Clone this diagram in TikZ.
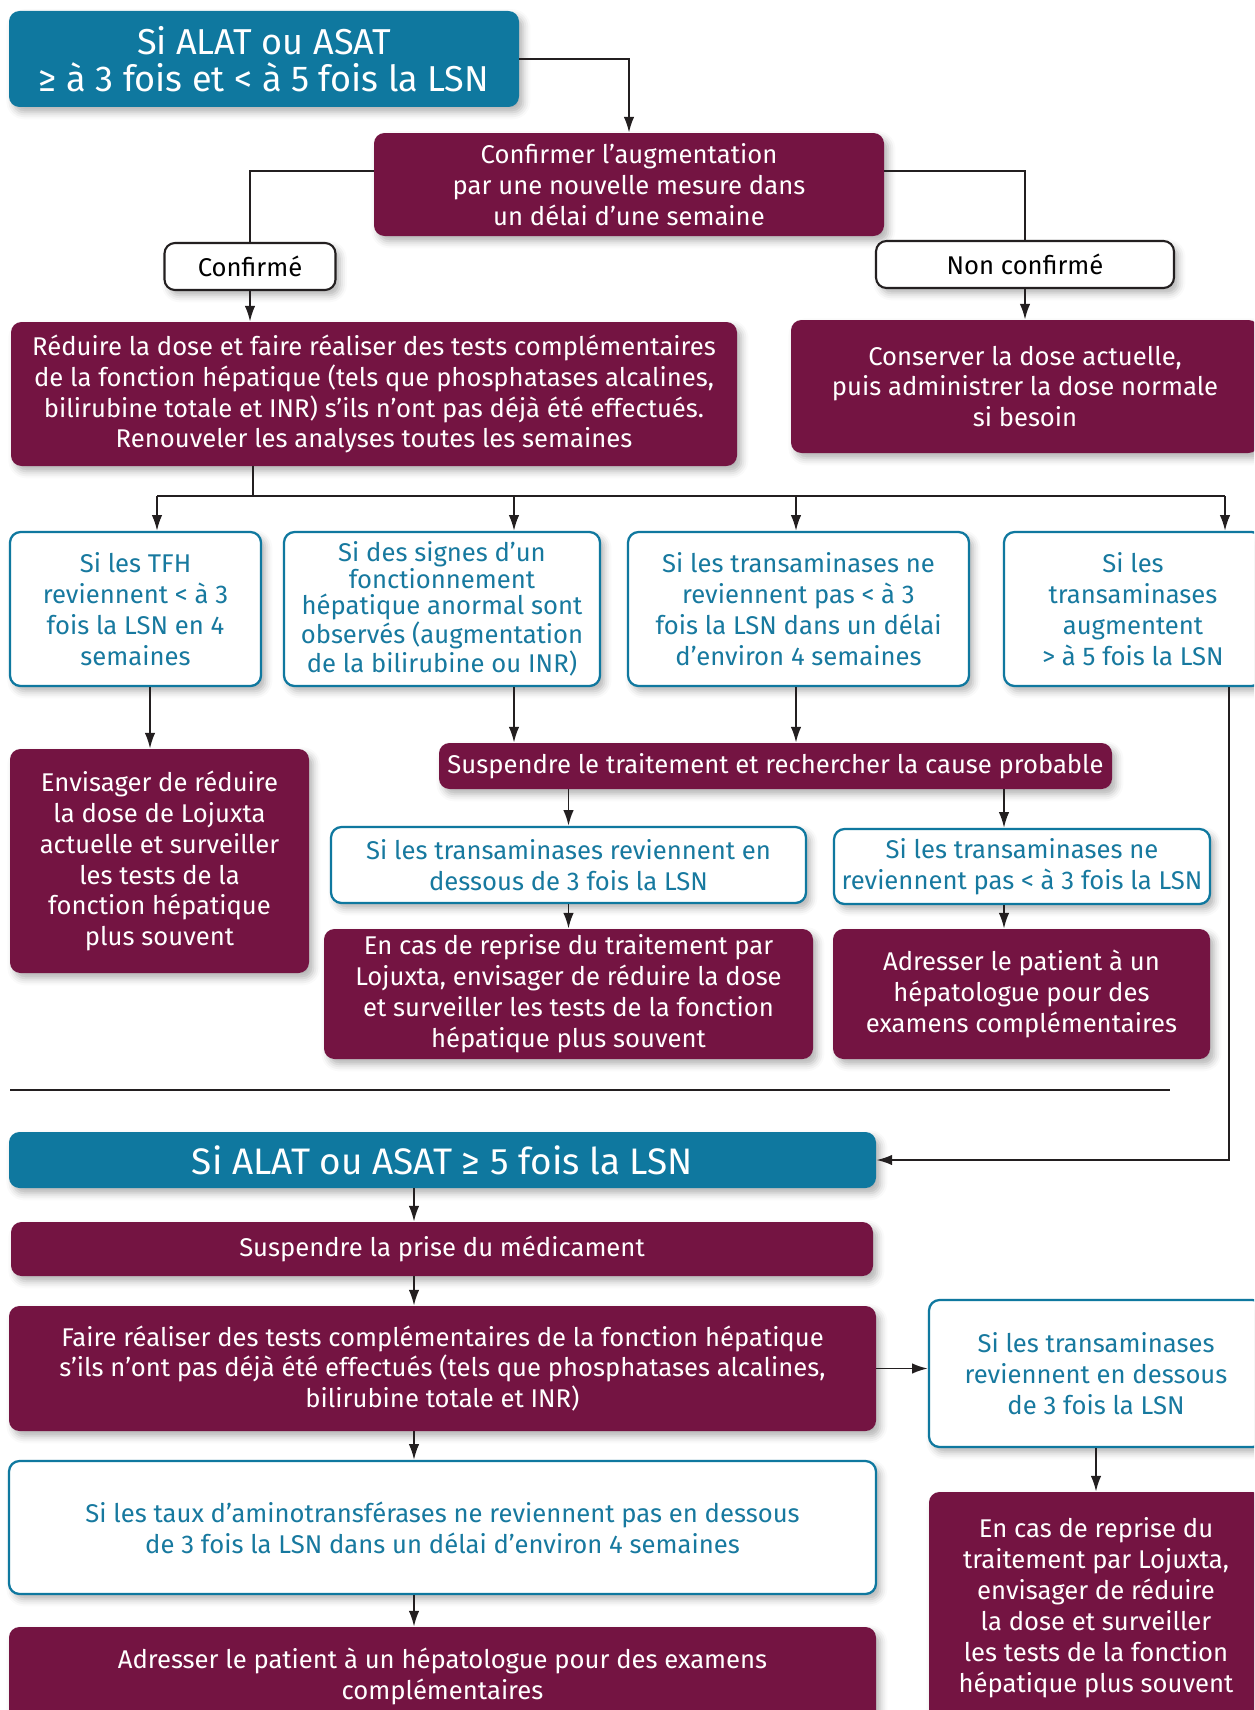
\documentclass[tikz,border=0pt]{standalone}
\usepackage{fontspec}
\setmainfont{Fira Sans}
\usetikzlibrary{arrows.meta,shadows.blur}
\definecolor{titleblue}{HTML}{0F789F}
\definecolor{plum}{HTML}{741442}
\definecolor{textblue}{HTML}{17799F}
\definecolor{wire}{HTML}{231F20}

\tikzset{
  boxbase/.style={rounded corners=6pt, inner sep=0pt, align=center,
    font=\fontsize{14.6}{17.6}\selectfont,
    blur shadow={shadow xshift=2.5pt, shadow yshift=-3pt, shadow blur radius=4pt, shadow opacity=30}},
  boxsize/.style 2 args={minimum width=#1*0.02cm, minimum height=#2*0.02cm},
  plumbox/.style={boxbase, fill=plum, text=white},
  bluebox/.style={boxbase, fill=titleblue, text=white},
  linebox/.style={boxbase, draw=titleblue, line width=1.3pt, fill=white, text=textblue},
  tagbox/.style={boxbase, draw=wire, line width=1.2pt, fill=white, text=black},
  link/.style={draw=wire, line width=1.1pt},
  arr/.style={link, -{Latex[length=9pt,width=6pt]}},
}

\begin{document}
\begin{tikzpicture}[x=0.02cm, y=-0.02cm]
    \useasboundingbox (0,0) rectangle (1254,1710);
    \clip (0,0) rectangle (1254,1710);

    % first case: 3 to 5 times
    \node[bluebox, boxsize={510}{96}, font=\fontsize{20.5}{20.8}\selectfont] (title1) at (264,59)
        {Si ALAT ou ASAT\\≥ à 3 fois et < à 5 fois la LSN};
    \node[plumbox, boxsize={510}{103}] (confirm) at (629,184.5)
        {Confirmer l’augmentation\\par une nouvelle mesure dans\\un délai d’une semaine};
    \node[tagbox, boxsize={171}{47}] (confirmed) at (250,266.5) {Confirmé};
    \node[tagbox, boxsize={298}{47}] (notconfirmed) at (1025,264.5) {Non confirmé};
    \node[plumbox, boxsize={726}{144}] (reduce) at (374,394)
        {Réduire la dose et faire réaliser des tests complémentaires\\de la fonction hépatique (tels que phosphatases alcalines,\\bilirubine totale et INR) s’ils n’ont pas déjà été effectués.\\Renouveler les analyses toutes les semaines};
    \node[plumbox, boxsize={468}{133}] (keep) at (1025,386.5)
        {Conserver la dose actuelle,\\puis administrer la dose normale\\si besoin};

    \node[linebox, boxsize={251}{154}] (tfh) at (135.5,609)
        {Si les TFH\\reviennent < à 3\\fois la LSN en 4\\semaines};
    \node[linebox, boxsize={316}{154}, font=\fontsize{14.6}{15}\selectfont] (signs) at (442,609)
        {Si des signes d’un\\fonctionnement\\hépatique anormal sont\\observés (augmentation\\de la bilirubine ou INR)};
    \node[linebox, boxsize={341}{154}] (notback) at (798.5,609)
        {Si les transaminases ne\\reviennent pas < à 3\\fois la LSN dans un délai\\d’environ 4 semaines};
    \node[linebox, boxsize={258}{154}] (rise) at (1133,609)
        {Si les\\transaminases\\augmentent\\> à 5 fois la LSN};

    \node[plumbox, boxsize={299}{224}] (consider) at (159.5,861)
        {Envisager de réduire\\la dose de Lojuxta\\actuelle et surveiller\\les tests de la\\fonction hépatique\\plus souvent};
    \node[plumbox, boxsize={673}{46}] (stop) at (775.5,766)
        {Suspendre le traitement et rechercher la cause probable};
    \node[linebox, boxsize={475}{76}] (back1) at (568.5,865)
        {Si les transaminases reviennent en\\dessous de 3 fois la LSN};
    \node[linebox, boxsize={376}{75}] (notback1) at (1022,866.5)
        {Si les transaminases ne\\reviennent pas < à 3 fois la LSN};
    \node[plumbox, boxsize={489}{130}] (resume1) at (568.5,994)
        {En cas de reprise du traitement par\\Lojuxta, envisager de réduire la dose\\et surveiller les tests de la fonction\\hépatique plus souvent};
    \node[plumbox, boxsize={377}{130}] (refer1) at (1021.5,994)
        {Adresser le patient à un\\hépatologue pour des\\examens complémentaires};

    % second case: 5 times and more
    \node[bluebox, boxsize={867}{56}, font=\fontsize{21}{22}\selectfont] (title2) at (442.5,1160)
        {Si ALAT ou ASAT ≥ 5 fois la LSN};
    \node[plumbox, boxsize={862}{54}] (stopdrug) at (442,1249)
        {Suspendre la prise du médicament};
    \node[plumbox, boxsize={867}{125}] (tests) at (442.5,1368.5)
        {Faire réaliser des tests complémentaires de la fonction hépatique\\s’ils n’ont pas déjà été effectués (tels que phosphatases alcalines,\\bilirubine totale et INR)};
    \node[linebox, boxsize={334}{147}] (back2) at (1096,1373.5)
        {Si les transaminases\\reviennent en dessous\\de 3 fois la LSN};
    \node[plumbox, boxsize={334}{232}] (resume2) at (1096,1608)
        {En cas de reprise du\\traitement par Lojuxta,\\envisager de réduire\\la dose et surveiller\\les tests de la fonction\\hépatique plus souvent};
    \node[linebox, boxsize={867}{133}] (rates) at (442.5,1527.5)
        {Si les taux d’aminotransférases ne reviennent pas en dessous\\de 3 fois la LSN dans un délai d’environ 4 semaines};
    \node[plumbox, boxsize={867}{98}] (refer2) at (442.5,1676)
        {Adresser le patient à un hépatologue pour des examens\\complémentaires};

    % helper points for the wires
    \coordinate (bus) at (253,496);
    \coordinate (col1) at (157,496);
    \coordinate (col2) at (514,496);
    \coordinate (col3) at (796,496);
    \coordinate (col4) at (1225,496);
    \coordinate (down1) at (150,720);
    \coordinate (down2) at (1004,800);
    \coordinate (side) at (1229,1000);
    \coordinate (spine) at (414,1200);

    \draw[arr] (title1.east) -| (confirm.north);
    \draw[link] ([yshift=7.5pt]confirm.west) -| (confirmed.north);
    \draw[link] ([yshift=7.5pt]confirm.east) -| (notconfirmed.north);
    \draw[arr] (confirmed.south) -- (confirmed.south |- reduce.north);
    \draw[arr] (notconfirmed.south) -- (notconfirmed.south |- keep.north);

    \draw[link] (reduce.south -| bus) -- (bus);
    \draw[link] (col1) -- (col4);
    \foreach \c/\n in {col1/tfh, col2/signs, col3/notback, col4/rise}
        \draw[arr] (\c) -- (\c |- \n.north);

    \draw[arr] (tfh.south -| down1) -- (consider.north -| down1);
    \draw[arr] (signs.south -| col2) -- (stop.north -| col2);
    \draw[arr] (notback.south -| col3) -- (stop.north -| col3);
    \draw[arr] (rise.south -| side) |- (title2.east);

    \draw[arr] (stop.south -| back1.north) -- (back1.north);
    \draw[arr] (stop.south -| down2) -- (notback1.north -| down2);
    \draw[arr] (back1.south) -- (resume1.north);
    \draw[arr] (notback1.south -| down2) -- (refer1.north -| down2);

    \draw[link, line width=1.2pt] (10,1090) -- (1170,1090);

    \foreach \a/\b in {title2/stopdrug, stopdrug/tests, tests/rates, rates/refer2}
        \draw[arr] (\a.south -| spine) -- (\b.north -| spine);
    \draw[arr] (tests.east) -- (tests.east -| back2.west);
    \draw[arr] (back2.south) -- (resume2.north);

\end{tikzpicture}
\end{document}
